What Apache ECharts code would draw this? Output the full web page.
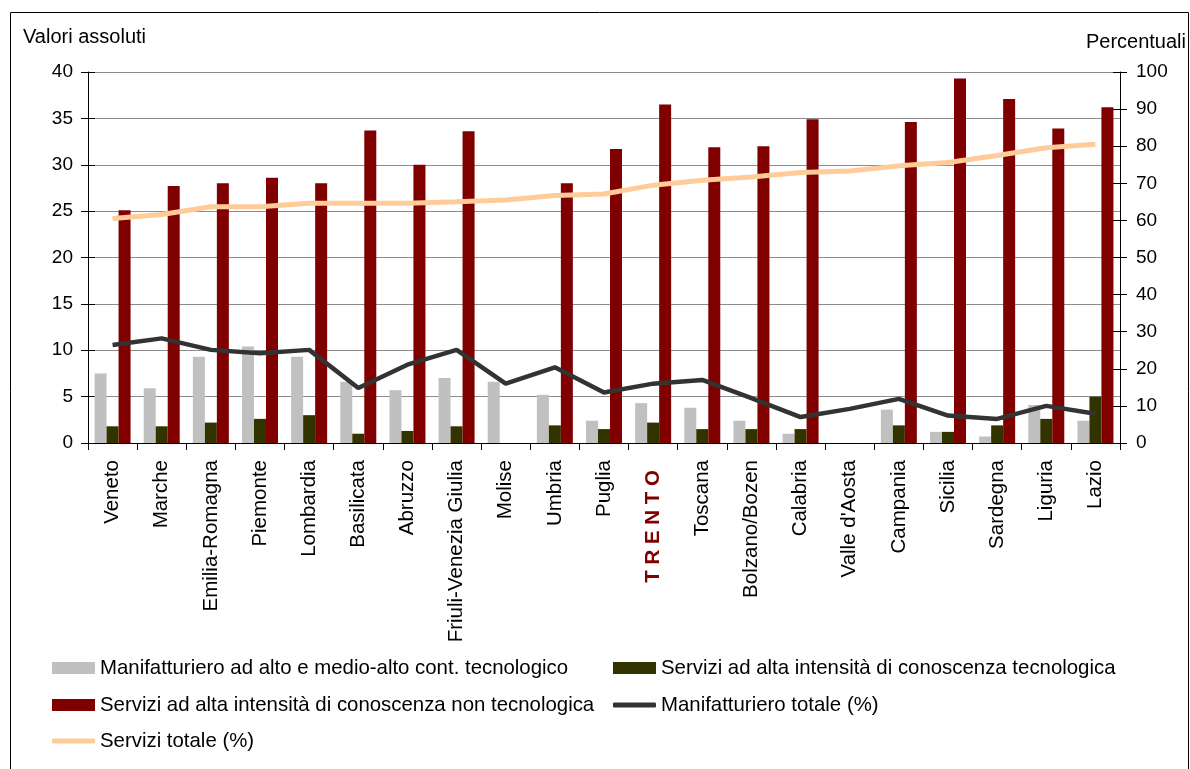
<!DOCTYPE html>
<html>
<head>
<meta charset="utf-8">
<title>Occupati nei settori ad alta tecnologia per regione</title>
<script src="https://cdn.jsdelivr.net/npm/echarts@6/dist/echarts.min.js"></script>
<style>
  html, body { margin: 0; padding: 0; background: #fff; }
  #chart { width: 1190px; height: 769px; }
</style>
</head>
<body>
<div id="chart"></div>
<script>
// Regions, ordered by services share
const regions = ['Veneto', 'Marche', 'Emilia-Romagna', 'Piemonte', 'Lombardia', 'Basilicata', 'Abruzzo',
  'Friuli-Venezia Giulia', 'Molise', 'Umbria', 'Puglia', 'TRENTO', 'Toscana', 'Bolzano/Bozen', 'Calabria',
  "Valle d'Aosta", 'Campania', 'Sicilia', 'Sardegna', 'Liguria', 'Lazio'];

// Absolute values (left axis)
const manifAltoTec = [7.5, 5.9, 9.3, 10.4, 9.3, 6.6, 5.7, 7.0, 6.6, 5.2, 2.4, 4.3, 3.8, 2.4, 1.0, null, 3.6, 1.2, 0.7, 4.1, 2.4];
const serviziTec = [1.8, 1.8, 2.2, 2.6, 3.0, 1.0, 1.3, 1.8, null, 1.9, 1.5, 2.2, 1.5, 1.5, 1.5, null, 1.9, 1.2, 1.9, 2.6, 5.0];
const serviziNonTec = [25.1, 27.7, 28.0, 28.6, 28.0, 33.7, 30.0, 33.6, null, 28.0, 31.7, 36.5, 31.9, 32.0, 34.9, null, 34.6, 39.3, 37.1, 33.9, 36.2];

// Percentages (right axis)
const manifTotale = [26.4, 28.2, 25.1, 24.2, 25.1, 14.8, 21.1, 25.1, 16.0, 20.4, 13.6, 16.0, 17.0, 12.1, 7.0, 9.2, 11.9, 7.4, 6.5, 10.0, 7.9];
const serviziTotale = [60.5, 61.6, 63.7, 63.7, 64.6, 64.6, 64.6, 65.0, 65.5, 66.7, 67.1, 69.5, 70.8, 71.7, 72.9, 73.3, 74.7, 75.6, 77.5, 79.6, 80.5];

// Series names
const names = [
  'Manifatturiero ad alto e medio-alto cont. tecnologico',
  'Servizi ad alta intensità di conoscenza tecnologica',
  'Servizi ad alta intensità di conoscenza non tecnologica',
  'Manifatturiero totale (%)',
  'Servizi totale (%)'
];

const FONT = "'Liberation Sans', Arial, sans-serif";
const BLACK = '#000000';

const chart = echarts.init(document.getElementById('chart'), null, { renderer: 'canvas' });

function legendAt(name, left, top, h, icon) {
  return {
    data: [name], left: left, top: top, padding: 0, itemGap: 0,
    itemWidth: 43, itemHeight: h, icon: icon,
    selectedMode: false,
    textStyle: { fontFamily: FONT, fontSize: 20.4, color: BLACK, padding: [0, 0, 0, 0] }
  };
}

const yBase = {
  min: 0, axisLine: { show: true, lineStyle: { color: BLACK, width: 1 } },
  axisTick: { show: true, inside: false, length: 7, lineStyle: { color: BLACK } },
  axisLabel: { fontFamily: FONT, fontSize: 19, color: BLACK }
};

const option = {
  animation: false,
  backgroundColor: '#ffffff',
  textStyle: { fontFamily: FONT },
  graphic: [
    { type: 'rect', shape: { x: 10.5, y: 12.5, width: 1178, height: 780 },
      style: { fill: 'none', stroke: '#000', lineWidth: 1 }, silent: true },
    { type: 'text', left: 23, top: 27,
      style: { text: 'Valori assoluti', font: "20px 'Liberation Sans', Arial, sans-serif", fill: BLACK } },
    { type: 'text', right: 4, top: 32,
      style: { text: 'Percentuali', font: "20px 'Liberation Sans', Arial, sans-serif", fill: BLACK, align: 'right' } }
  ],
  legend: [
    legendAt(names[0], 52, 658, 12, 'rect'),
    legendAt(names[1], 613, 658, 12, 'rect'),
    legendAt(names[2], 52, 695, 12, 'rect'),
    legendAt(names[3], 613, 695, 5, 'roundRect'),
    legendAt(names[4], 52, 731, 5, 'roundRect')
  ],
  grid: { left: 88, right: 70, top: 72, bottom: 326, containLabel: false },
  xAxis: {
    type: 'category', data: regions, boundaryGap: true,
    axisLine: { lineStyle: { color: BLACK, width: 1 } },
    axisTick: { show: true, length: 7, alignWithLabel: false, interval: 0, lineStyle: { color: BLACK } },
    axisLabel: {
      interval: 0, rotate: 90, margin: 17, fontFamily: FONT, fontSize: 20.5, color: BLACK,
      formatter: function (v) { return v === 'TRENTO' ? '{t|T R E N T O}' : v; },
      rich: { t: { fontFamily: FONT, fontSize: 20.5, fontWeight: 'bold', color: '#800000', padding: [0, 10, 0, 0] } }
    },
    splitLine: { show: false }
  },
  yAxis: [
    Object.assign({}, yBase, {
      type: 'value', position: 'left', max: 40, interval: 5,
      axisLabel: Object.assign({}, yBase.axisLabel, { margin: 15 }),
      splitLine: { show: true, lineStyle: { color: '#8c8c8c', width: 1 } }
    }),
    Object.assign({}, yBase, {
      type: 'value', position: 'right', max: 100, interval: 10,
      axisLabel: Object.assign({}, yBase.axisLabel, { margin: 16 }),
      splitLine: { show: false }
    }),
    { type: 'value', position: 'left', min: 0, max: 40, interval: 5,
      axisLine: { show: false }, axisLabel: { show: false }, splitLine: { show: false },
      axisTick: { show: true, inside: true, length: 7, lineStyle: { color: BLACK } } },
    { type: 'value', position: 'right', min: 0, max: 100, interval: 10,
      axisLine: { show: false }, axisLabel: { show: false }, splitLine: { show: false },
      axisTick: { show: true, inside: true, length: 7, lineStyle: { color: BLACK } } }
  ],
  series: [
    { name: names[0], type: 'bar', yAxisIndex: 0, data: manifAltoTec, barWidth: 12, barGap: '0%',
      itemStyle: { color: '#c0c0c0' } },
    { name: names[1], type: 'bar', yAxisIndex: 0, data: serviziTec, barWidth: 12, barGap: '0%',
      itemStyle: { color: '#333300' } },
    { name: names[2], type: 'bar', yAxisIndex: 0, data: serviziNonTec, barWidth: 12, barGap: '0%',
      itemStyle: { color: '#800000' } },
    { name: names[3], type: 'line', yAxisIndex: 1, data: manifTotale, symbol: 'none', z: 5,
      color: '#333333', lineStyle: { color: '#333333', width: 4.5 }, itemStyle: { color: '#333333' } },
    { name: names[4], type: 'line', yAxisIndex: 1, data: serviziTotale, symbol: 'none', z: 5,
      color: '#ffcc99', lineStyle: { color: '#ffcc99', width: 5 }, itemStyle: { color: '#ffcc99' } }
  ]
};

chart.setOption(option);
</script>
</body>
</html>
